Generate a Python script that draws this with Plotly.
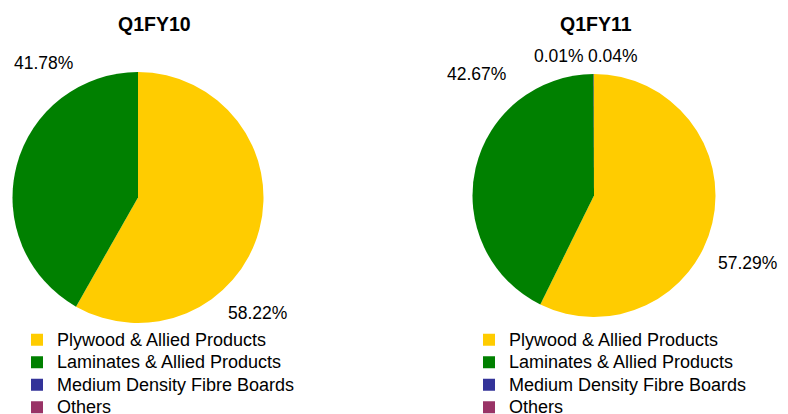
import plotly.graph_objects as go

W, H = 788, 414

categories = ["Plywood & Allied Products", "Laminates & Allied Products",
              "Medium Density Fibre Boards", "Others"]
colors = ["#FFCC00", "#008000", "#333399", "#993366"]

titles = ["Q1FY10", "Q1FY11"]
values_fy10 = [58.22, 41.78, 0.0, 0.0]
values_fy11 = [57.29, 42.67, 0.01, 0.04]

FONT = "Arial, Liberation Sans, sans-serif"

def px(x, y):
    return x / W, 1 - y / H

# pie domains (pixel boxes) and label placements (pixel centres)
pie_boxes = [(12, 72, 264, 323), (472, 74, 716, 317)]
title_pos = [(154, 24), (596, 24)]
label_pos = [
    [(257, 313), (43, 63), None, None],
    [(747, 263), (476, 74), (559, 56), (613, 56)],
]
legend_pos = [(57, 337.5), (509, 337.5)]

fig = go.Figure()
annotations = []
for i, (vals, title) in enumerate([(values_fy10, titles[0]), (values_fy11, titles[1])]):
    x0, y0, x1, y1 = pie_boxes[i]
    # invisible suffix keeps each pie's legend entries separate
    shown = [f'<span style="font-size:18px">{c}</span>' + ("\u200b" * i) for c in categories]
    fig.add_trace(go.Pie(
        labels=shown, values=vals, sort=False, direction="clockwise",
        rotation=0, marker=dict(colors=colors, line=dict(width=0)),
        textinfo="none", hovertemplate="%{label}: %{value}%<extra></extra>",
        domain=dict(x=[x0 / W, x1 / W], y=[1 - y1 / H, 1 - y0 / H]),
        legend="legend" if i == 0 else "legend2", showlegend=True,
    ))
    tx, ty = px(*title_pos[i])
    annotations.append(dict(x=tx, y=ty, xref="paper", yref="paper",
                            text=f"<b>{title}</b>", showarrow=False,
                            font=dict(family=FONT, size=19.5, color="#000000"),
                            xanchor="center", yanchor="middle"))
    for v, pos in zip(vals, label_pos[i]):
        if pos is None or v <= 0:
            continue
        lx, ly = px(*pos)
        annotations.append(dict(x=lx, y=ly, xref="paper", yref="paper",
                                text=f"{v:.2f}%", showarrow=False,
                                font=dict(family=FONT, size=17.5, color="#000000"),
                                xanchor="center", yanchor="middle"))

def legend_cfg(pos):
    lx, ly = pos
    return dict(x=(lx - 40) / W, y=1 - (ly - 14) / H, xanchor="left", yanchor="top",
                font=dict(family=FONT, size=15, color="#000000"),
                bgcolor="rgba(0,0,0,0)", orientation="v", traceorder="normal")

fig.update_layout(
    width=W, height=H, margin=dict(l=0, r=0, t=0, b=0, autoexpand=False),
    paper_bgcolor="white", plot_bgcolor="white",
    annotations=annotations,
    legend=legend_cfg(legend_pos[0]),
    legend2=legend_cfg(legend_pos[1]),
)

fig.write_html("out.html")
